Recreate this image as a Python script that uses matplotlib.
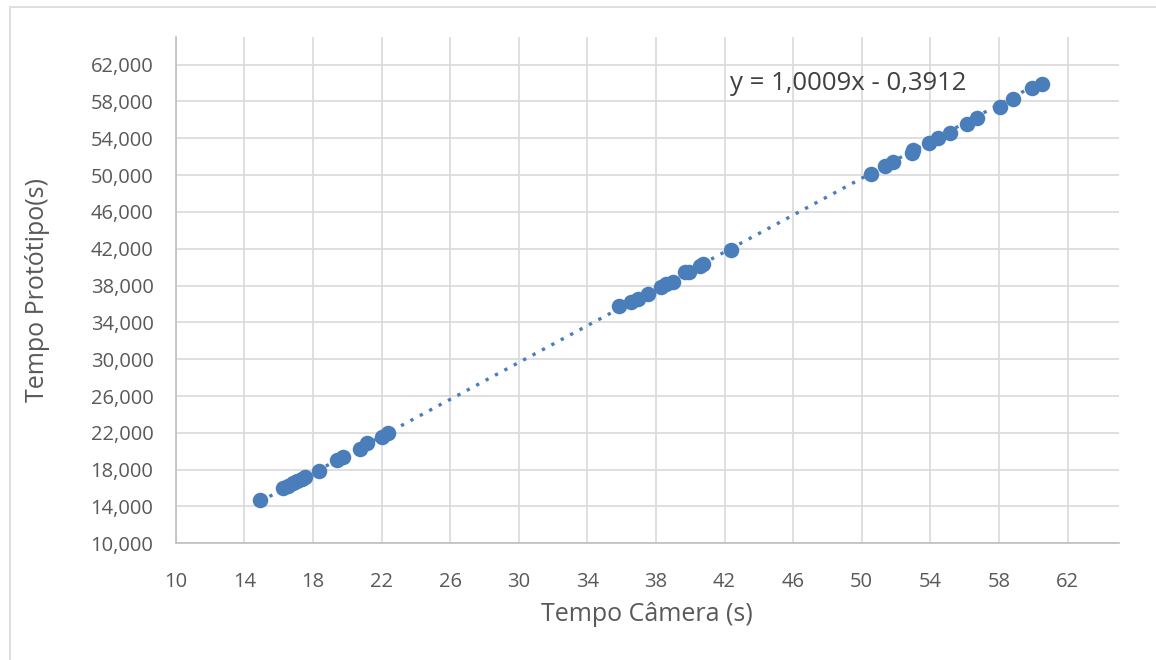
import numpy as np
import matplotlib.pyplot as plt
from matplotlib.patches import Rectangle
from matplotlib.ticker import FuncFormatter

# camera time (s) vs prototype time (s)
tempo_camera = [14.92, 16.28, 16.55, 16.85, 17.1, 17.35, 17.55, 18.33,
                19.4, 19.77, 20.76, 21.15, 22.03, 22.4,
                35.87, 36.55, 36.95, 37.53, 38.31, 38.6, 38.99, 39.67, 39.95,
                40.55, 40.75, 42.4,
                50.55, 51.37, 51.85, 52.95, 53.0, 53.95, 54.45, 55.13, 56.11,
                56.7, 58.05, 58.83, 59.95, 60.53]
tempo_prototipo = [14.69, 15.96, 16.2, 16.5, 16.75, 17.0, 17.19, 17.85,
                   19.04, 19.37, 20.23, 20.88, 21.56, 21.96,
                   35.73, 36.19, 36.56, 37.1, 37.89, 38.18, 38.36, 39.44, 39.44,
                   40.17, 40.35, 41.87,
                   50.11, 51.01, 51.37, 52.45, 52.75, 53.53, 54.08, 54.62, 55.6,
                   56.18, 57.4, 58.3, 59.5, 59.93]
slope, intercept = 1.0009, -0.3912
eq_label = "y = 1,0009x - 0,3912"

x_ticks = list(range(10, 63, 4))
y_ticks = list(range(10, 63, 4))

blue = '#4a7ebb'
plt.rcParams['font.family'] = ['Open Sans', 'DejaVu Sans']

fig = plt.figure(figsize=(11.56, 6.6), dpi=100)
ax = fig.add_axes([175.7/1156, 1-543.3/660, (1119-175.7)/1156, (543.3-37)/660])

# chart frame border
fig.patches.append(Rectangle((10/1156, -0.5), 2, 1.5 - 7/660, transform=fig.transFigure,
                             fill=False, edgecolor='#d9d9d9', linewidth=1.2))

ax.scatter(tempo_camera, tempo_prototipo, s=125, color=blue, zorder=3, linewidths=0)

xt = np.array([min(tempo_camera), max(tempo_camera)])
ax.plot(xt, slope*xt + intercept, color=blue, linestyle=(0, (1, 2.2)), linewidth=2.4, zorder=2)

ax.text(730/1156, 1-84/660, eq_label, transform=fig.transFigure, fontsize=18.5,
        color='#404040', va='center', ha='left')

ax.set_xlim(10, 65)
ax.set_ylim(10, 65)
ax.set_xticks(x_ticks)
ax.set_yticks(y_ticks)
ax.yaxis.set_major_formatter(FuncFormatter(lambda v, p: ('%.3f' % v).replace('.', ',')))
ax.tick_params(length=0, labelsize=14.5, labelcolor='#595959')
ax.tick_params(axis='y', pad=16)
ax.tick_params(axis='x', pad=21)

ax.grid(True, color='#d9d9d9', linewidth=1.2)
ax.set_axisbelow(True)
for s in ['top', 'right']:
    ax.spines[s].set_visible(False)
for s in ['left', 'bottom']:
    ax.spines[s].set_color('#bfbfbf')
    ax.spines[s].set_linewidth(1.2)

ax.set_xlabel('Tempo Câmera (s)', fontsize=18, color='#595959')
ax.set_ylabel('Tempo Protótipo(s)', fontsize=18, color='#595959')
ax.xaxis.set_label_coords(0.5, -0.1416)
ax.yaxis.set_label_coords(-0.147, 0.5)
ax.xaxis.label.set_va('center')
ax.yaxis.label.set_va('center')

fig.savefig('out.png', dpi=100)
